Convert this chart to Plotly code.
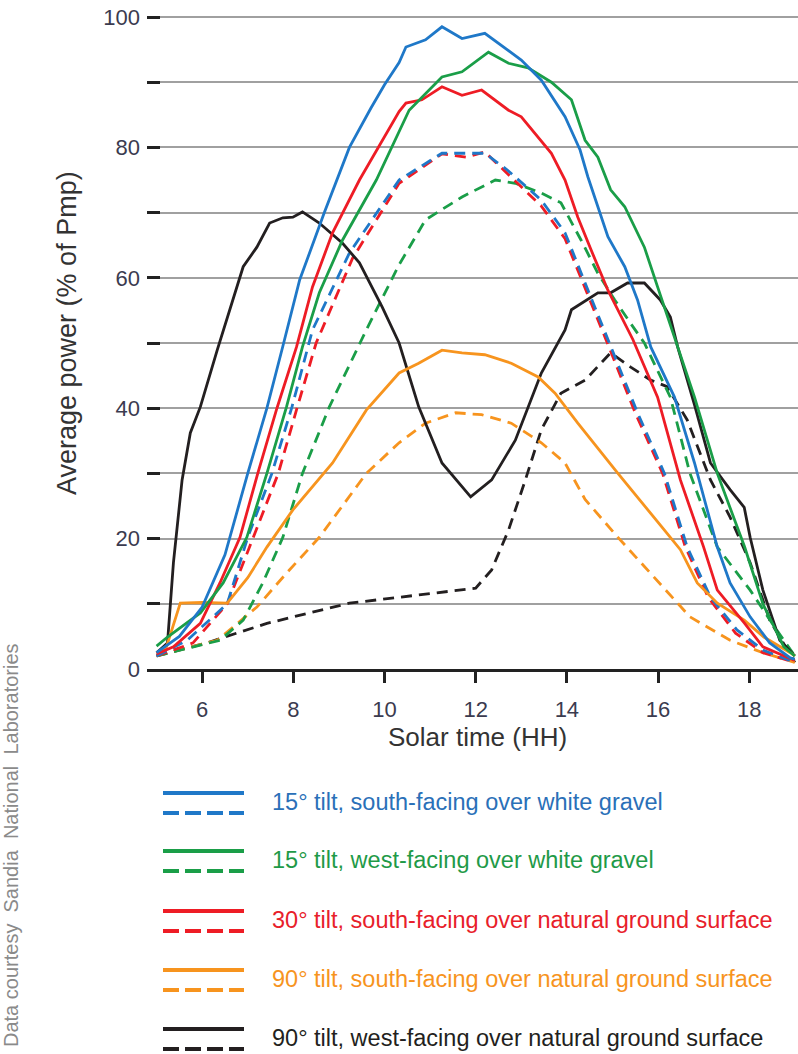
import plotly.graph_objects as go

# ---------------- data ----------------
bs_x = [5.0, 5.5, 6.0, 6.5, 7.0, 7.42, 7.77, 8.14, 8.68, 9.23, 9.7, 10.0, 10.32, 10.47, 10.9, 11.26, 11.7, 12.2,
        13.0, 13.44, 13.96, 14.29, 14.46, 14.9, 15.27, 15.55, 15.84, 16.36, 16.8, 17.3, 17.58, 18.02, 18.45, 18.9, 19.0]
bs_y = [2.5, 5.0, 9.5, 17.5, 30.0, 40.0, 49.5, 59.7, 70.0, 80.0, 86.0, 89.6, 93.0, 95.4, 96.5, 98.5, 96.7, 97.5,
        93.4, 90.3, 84.7, 79.6, 75.5, 66.3, 61.7, 56.6, 49.4, 41.7, 31.6, 18.7, 13.2, 8.0, 4.0, 1.7, 1.5]

bd_x = [5.0, 5.67, 6.55, 7.0, 7.53, 7.97, 8.42, 9.23, 10.32, 11.26, 12.2, 12.7, 13.44, 13.96, 14.4, 14.86,
        15.55, 16.14, 16.64, 17.15, 17.73, 18.3, 19.0]
bd_y = [2.0, 4.4, 10.0, 20.2, 30.0, 40.2, 52.0, 63.8, 75.0, 79.1, 79.1, 76.5, 71.9, 66.9, 59.2, 51.2,
        39.3, 30.0, 18.7, 11.0, 6.0, 2.9, 1.0]

gs_x = [5.0, 5.24, 5.96, 6.46, 6.98, 7.42, 7.85, 8.2, 8.57, 9.08, 9.82, 10.32, 10.54, 11.26, 11.7, 12.28, 12.72,
        13.15, 13.66, 14.1, 14.4, 14.68, 14.96, 15.27, 15.7, 15.99, 16.36, 16.8, 17.3, 17.9, 18.3, 18.76, 19.0]
gs_y = [3.5, 4.9, 8.6, 13.2, 20.2, 30.0, 40.2, 49.4, 57.7, 65.8, 75.0, 82.5, 85.7, 90.8, 91.6, 94.6, 92.9,
        92.2, 90.0, 87.3, 81.1, 78.5, 73.5, 70.9, 64.7, 58.6, 51.0, 41.7, 30.0, 18.7, 10.0, 3.4, 2.0]

gd_x = [5.0, 6.39, 6.9, 7.33, 7.77, 8.2, 8.79, 9.3, 9.6, 10.32, 10.9, 11.7, 12.43, 12.87, 13.44, 13.87, 14.31,
        14.68, 15.05, 15.4, 15.7, 16.27, 16.7, 17.3, 18.02, 18.6, 19.0]
gd_y = [2.0, 4.4, 7.5, 13.2, 20.2, 30.0, 40.2, 47.5, 52.0, 62.0, 68.9, 72.4, 75.0, 74.5, 73.0, 71.5, 65.8,
        60.7, 56.6, 53.0, 50.0, 41.7, 30.0, 18.7, 12.1, 6.0, 2.0]

rs_x = [5.0, 5.37, 5.96, 6.39, 6.83, 7.22, 7.64, 8.07, 8.42, 8.86, 9.45, 9.95, 10.32, 10.47, 10.82, 11.26, 11.7,
        12.13, 12.72, 13.0, 13.66, 13.96, 14.24, 14.53, 14.9, 15.45, 15.99, 16.49, 17.0, 17.3, 17.9, 18.3, 19.0]
rs_y = [2.3, 3.4, 7.0, 13.2, 20.2, 30.0, 40.0, 49.4, 58.6, 66.9, 75.0, 81.0, 85.5, 86.8, 87.3, 89.3, 88.0,
        88.8, 85.7, 84.7, 79.1, 75.0, 69.3, 64.3, 58.1, 50.5, 41.7, 29.0, 18.7, 12.1, 7.0, 3.4, 1.3]

rd_x = [5.0, 5.8, 6.55, 7.12, 7.67, 8.08, 8.5, 9.3, 10.32, 11.26, 11.8, 12.2, 12.7, 13.44, 13.96, 14.4, 14.83,
        15.5, 16.1, 16.6, 17.1, 17.7, 18.3, 19.0]
rd_y = [2.0, 4.0, 10.0, 20.2, 30.0, 40.0, 50.0, 63.0, 74.5, 79.0, 78.5, 79.3, 76.0, 71.0, 66.0, 58.5, 51.0,
        39.3, 30.0, 18.7, 11.0, 5.5, 2.5, 1.0]

os_x = [5.0, 5.2, 5.52, 6.0, 6.55, 7.0, 7.42, 7.99, 8.86, 9.6, 10.32, 10.75, 11.26, 11.7, 12.2, 12.78, 13.37,
        13.74, 14.24, 15.12, 16.14, 16.49, 16.86, 17.3, 17.89, 18.32, 18.9, 19.0]
os_y = [2.5, 3.0, 10.1, 10.2, 10.1, 14.0, 18.7, 24.4, 31.6, 39.7, 45.4, 46.9, 48.9, 48.5, 48.2, 46.9, 44.8,
        42.3, 37.7, 30.0, 21.3, 18.3, 13.2, 10.1, 7.5, 4.9, 2.5, 2.0]

od_x = [5.0, 6.33, 7.2, 7.85, 8.57, 9.6, 10.32, 10.9, 11.56, 12.13, 12.78, 13.44, 13.96, 14.4, 15.12, 15.84,
        16.7, 17.58, 18.3, 19.0]
od_y = [2.0, 4.4, 9.5, 14.7, 20.2, 30.0, 34.7, 37.7, 39.3, 39.0, 37.7, 34.7, 31.6, 26.0, 20.2, 14.7,
        8.0, 4.4, 2.5, 1.0]

ks_x = [5.0, 5.24, 5.37, 5.56, 5.74, 5.96, 6.33, 6.68, 6.9, 7.2, 7.48, 7.77, 7.99, 8.2, 8.57, 9.08, 9.45, 9.95,
        10.32, 10.75, 11.26, 11.89, 12.35, 12.87, 13.44, 13.96, 14.1, 14.68, 14.96, 15.33, 15.7, 16.05, 16.27,
        16.43, 16.8, 17.15, 17.58, 17.89, 18.02, 18.3, 18.67, 19.0]
ks_y = [2.5, 4.0, 16.3, 29.0, 36.2, 40.2, 48.9, 56.6, 61.7, 64.7, 68.4, 69.2, 69.3, 70.1, 68.4, 65.3, 62.3, 55.5,
        50.0, 40.2, 31.6, 26.4, 29.0, 35.1, 45.4, 52.0, 55.1, 57.7, 57.7, 59.2, 59.2, 56.6, 54.0,
        49.4, 40.5, 31.6, 27.5, 24.8, 20.2, 12.1, 4.4, 2.0]

kd_x = [5.0, 6.1, 7.42, 8.57, 9.23, 10.32, 11.04, 12.0, 12.35, 12.72, 13.09, 13.44, 13.87, 14.4, 14.96, 15.4,
        15.84, 16.2, 16.64, 17.15, 17.58, 18.02, 18.45, 19.0]
kd_y = [2.0, 4.0, 7.0, 9.0, 10.1, 11.0, 11.6, 12.4, 15.2, 21.3, 29.0, 36.7, 42.3, 44.3, 48.5, 46.3,
        44.3, 43.3, 38.2, 29.0, 23.3, 16.3, 7.5, 1.0]

x_ticks = [6, 8, 10, 12, 14, 16, 18]
y_ticks = [0, 20, 40, 60, 80, 100]

legend_labels = [
    "15° tilt, south-facing over white gravel",
    "15° tilt, west-facing over white gravel",
    "30° tilt, south-facing over natural ground surface",
    "90° tilt, south-facing over natural ground surface",
    "90° tilt, west-facing over natural ground surface",
]
x_title = "Solar time (HH)"
y_title = "Average power (% of Pmp)"
credit = "Data courtesy  Sandia  National  Laboratories"

# ---------------- styling ----------------
BLUE, GREEN, RED, ORANGE, BLACK = "#1f78c8", "#1a9e48", "#ee1c25", "#f7941e", "#231f20"
TEXT_COLORS = ["#2a70b8", "#1f9a48", "#e8202a", "#f7941e", "#231f20"]
LINE_COLORS = [BLUE, GREEN, RED, ORANGE, BLACK]
FONT = "Liberation Sans, Arial, Helvetica, sans-serif"
DASH = "11px,7px"
LW = 2.8

W, H = 798, 1054
ML, MR, MT, MB = 147, 0, 4, 385
PW, PH = W - ML - MR, H - MT - MB
Y_TOP = PH / 6.52            # 6.52 px per percent, as in the reference


def px_x(px):
    return (px - ML) / PW


def px_y(py):
    return (H - MB - py) / PH


fig = go.Figure()

series = [
    (kd_x, kd_y, BLACK, DASH), (od_x, od_y, ORANGE, DASH), (gd_x, gd_y, GREEN, DASH),
    (rd_x, rd_y, RED, DASH), (bd_x, bd_y, BLUE, DASH),
    (ks_x, ks_y, BLACK, "solid"), (os_x, os_y, ORANGE, "solid"), (rs_x, rs_y, RED, "solid"),
    (gs_x, gs_y, GREEN, "solid"), (bs_x, bs_y, BLUE, "solid"),
]
for xs, ys, col, dash in series:
    fig.add_trace(go.Scatter(x=xs, y=ys, mode="lines", showlegend=False,
                             line=dict(color=col, width=LW, dash=dash)))

fig.update_layout(
    width=W, height=H, margin=dict(l=ML, r=MR, t=MT, b=MB, autoexpand=False),
    paper_bgcolor="white", plot_bgcolor="white",
    font=dict(family=FONT, color="#333"),
    showlegend=False,
)
fig.update_xaxes(
    range=[4.79, 19.07], tickvals=x_ticks, ticks="outside", ticklen=11, tickwidth=2.5, tickcolor="#222",
    showline=True, linecolor="#222", linewidth=2.5, showgrid=False, zeroline=False,
    tickfont=dict(size=22, color="#3b3b4f", family=FONT), ticklabelstandoff=8,
)
fig.update_yaxes(
    range=[0, Y_TOP], tickvals=y_ticks, ticks="inside", ticklen=13, tickwidth=2.5, tickcolor="#222",
    showline=False, showgrid=True, gridcolor="#a0a0a0", gridwidth=1.6, zeroline=False,
    tickfont=dict(size=22, color="#3b3b4f", family=FONT), ticklabelstandoff=6,
    ticklabeloverflow="allow",
    minor=dict(dtick=10, ticks="inside", ticklen=13, tickwidth=2.5, tickcolor="#222",
               showgrid=True, gridcolor="#a0a0a0", gridwidth=1.6),
)

annotations = [
    dict(text=x_title, x=px_x(477), y=px_y(737), xref="paper", yref="paper", showarrow=False,
         xanchor="center", yanchor="middle", font=dict(size=26, color="#333", family=FONT)),
    dict(text=y_title, x=px_x(67), y=px_y(333), xref="paper", yref="paper", showarrow=False, textangle=-90,
         xanchor="center", yanchor="middle", font=dict(size=27, color="#333", family=FONT)),
    dict(text=credit, x=px_x(11), y=px_y(845), xref="paper", yref="paper", showarrow=False, textangle=-90,
         xanchor="center", yanchor="middle", font=dict(size=20, color="#8a8a8a", family=FONT)),
]
shapes = []
solid_rows = [793, 851, 911, 970, 1029]
for i, lab in enumerate(legend_labels):
    ys = solid_rows[i]
    yd = ys + 20
    shapes.append(dict(type="line", xref="paper", yref="paper", x0=px_x(163), x1=px_x(244),
                       y0=px_y(ys), y1=px_y(ys), line=dict(color=LINE_COLORS[i], width=4)))
    shapes.append(dict(type="line", xref="paper", yref="paper", x0=px_x(163), x1=px_x(244),
                       y0=px_y(yd), y1=px_y(yd), line=dict(color=LINE_COLORS[i], width=4, dash="16px,6px")))
    annotations.append(dict(text=lab, x=px_x(270), y=px_y(ys + 9), xref="paper", yref="paper",
                            showarrow=False, xanchor="left", yanchor="middle",
                            font=dict(size=23.5, color=TEXT_COLORS[i], family=FONT)))

fig.update_layout(annotations=annotations, shapes=shapes)
fig.write_html("out.html", config={"displayModeBar": False},
               post_script="document.body.style.margin='0px'; document.body.style.overflow='hidden';")
